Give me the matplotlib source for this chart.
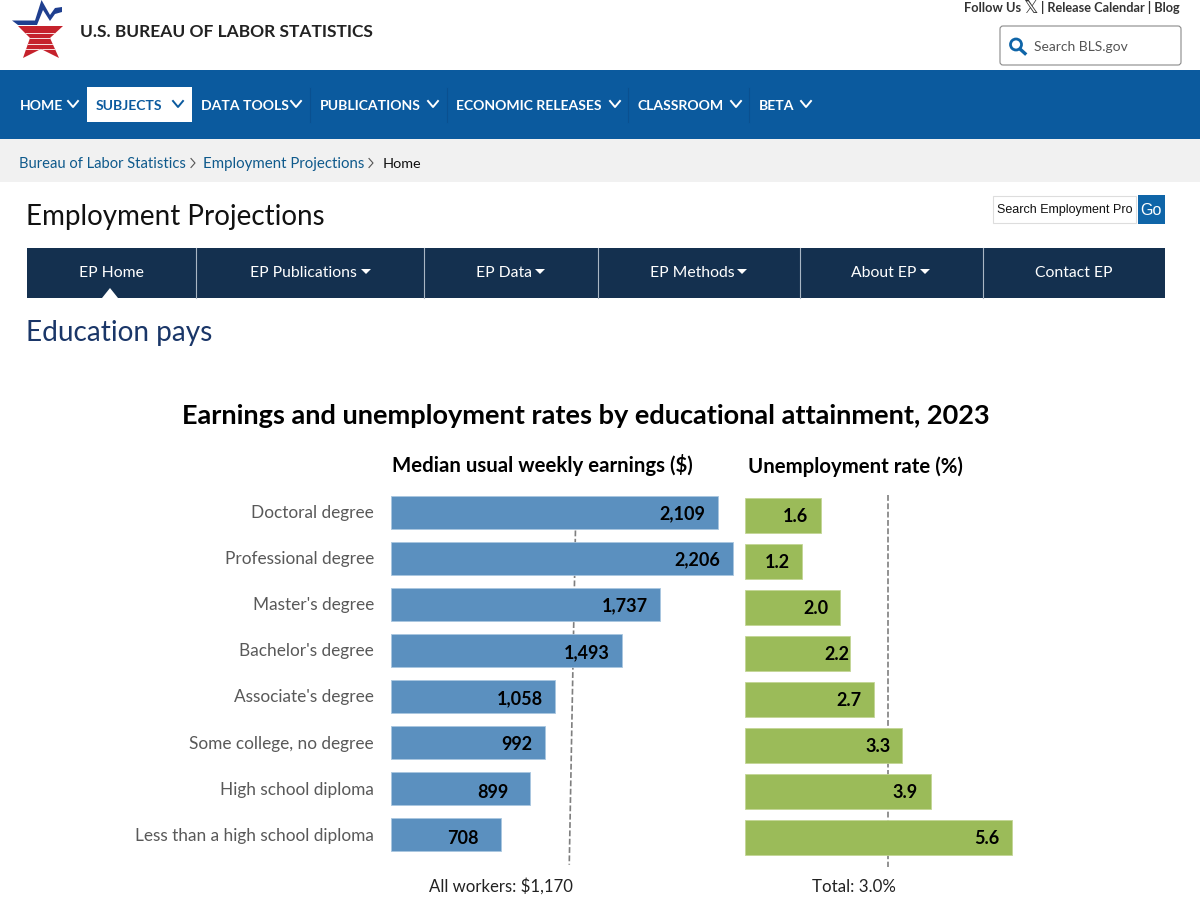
import matplotlib
matplotlib.use("Agg")
import matplotlib.pyplot as plt
from matplotlib.patches import Rectangle, Polygon, FancyBboxPatch, Circle

plt.rcParams['font.family'] = ['Lato', 'DejaVu Sans']

W, H = 1200, 907

# chart data
degrees = ["Doctoral degree", "Professional degree", "Master's degree", "Bachelor's degree",
           "Associate's degree", "Some college, no degree", "High school diploma",
           "Less than a high school diploma"]
earnings = [2109, 2206, 1737, 1493, 1058, 992, 899, 708]
unemployment = [1.6, 1.2, 2.0, 2.2, 2.7, 3.3, 3.9, 5.6]
all_workers = 1170
total_rate = 3.0

# site navigation text
main_nav = ["HOME", "SUBJECTS", "DATA TOOLS", "PUBLICATIONS", "ECONOMIC RELEASES", "CLASSROOM", "BETA"]
ep_nav = ["EP Home", "EP Publications", "EP Data", "EP Methods", "About EP", "Contact EP"]

fig = plt.figure(figsize=(W / 100, H / 100), dpi=100, facecolor='white')

# page furniture is drawn on a full-size axes in pixel units
page = fig.add_axes([0, 0, 1, 1])
page.set_xlim(0, W)
page.set_ylim(H, 0)
page.axis('off')


def box(x0, y0, x1, y1, color, **kw):
    r = Rectangle((x0, y0), x1 - x0, y1 - y0, facecolor=color, edgecolor=kw.pop('edge', 'none'), **kw)
    page.add_patch(r)
    return r


def chevron(x, y, color, s=5):
    page.plot([x - s, x, x + s], [y - s * 0.6, y + s * 0.6, y - s * 0.6], color=color, lw=1.4)


# logo
star = Polygon([(18, 26), (63, 26), (50, 38), (59, 58), (41, 49), (23, 58), (30, 38)], facecolor='#c5222c', edgecolor='none')
page.add_patch(star)
for y in [33, 38, 43.5, 49]:
    box(15, y, 66, y + 1.2, '#f6dcdc').set_clip_path(star)
page.add_patch(Polygon([(12, 20.5), (35, 20.5), (41.5, 0), (50, 15), (55, 8), (62, 7), (62, 12), (55, 14), (50, 21),
                        (43, 10), (37, 25), (18, 25)], facecolor='#1f3f8f', edgecolor='none'))
page.text(80, 32, "U.S. BUREAU OF LABOR STATISTICS", fontsize=12.5, fontweight='bold', color='#222222', va='center')

# top links and site search
page.text(964, 8, "Follow Us", fontsize=9.3, fontweight='bold', color='#333333', va='center')
page.text(1030, 8, "\U0001D54F", fontsize=13, color='#333333', va='center', ha='center', family='DejaVu Sans')
page.text(1041, 8, "| Release Calendar | Blog", fontsize=9.2, fontweight='bold', color='#333333', va='center')
page.add_patch(FancyBboxPatch((1000, 26), 181, 39, boxstyle="round,pad=0,rounding_size=3", facecolor='white',
                              edgecolor='#8a8a8a', lw=0.8))
page.add_patch(Circle((1016, 44.5), 5.5, facecolor='none', edgecolor='#0f65a8', lw=2))
page.plot([1020, 1025], [49, 53.5], color='#0f65a8', lw=2.4)
page.text(1034, 47, "Search BLS.gov", fontsize=10, color='#555555', va='center')

# main navigation bar
box(0, 70, W, 139, '#0b5a9e')
box(87, 87, 192, 122, 'white')
nav_x = [20, 96, 201, 319.5, 456, 638, 759]
nav_chevron = [73, 178, 296, 433, 615, 736, 806]
for i, label in enumerate(main_nav):
    c = '#0b5a9e' if label == "SUBJECTS" else 'white'
    page.text(nav_x[i], 105.5, label, fontsize=10.1, fontweight='bold', color=c, va='center')
    chevron(nav_chevron[i], 104, c)
for x in [310, 447, 628, 749]:
    page.plot([x, x], [88, 122], color='#0a5090', lw=0.8)

# breadcrumb
box(0, 139, W, 182, '#f1f1f1')
page.text(19, 164, "Bureau of Labor Statistics", fontsize=10.6, color='#0f5a8c', va='center')
page.plot([191, 195, 191], [158.5, 163, 167.5], color='#555555', lw=0.8)
page.text(203, 164, "Employment Projections", fontsize=10.8, color='#0f5a8c', va='center')
page.plot([369, 373, 369], [158.5, 163, 167.5], color='#555555', lw=0.8)
page.text(383, 164, "Home", fontsize=10.4, color='#111111', va='center')

# section header and its search
page.text(26, 217, "Employment Projections", fontsize=20, color='#111111', va='center')
box(993, 196, 1136, 223, 'white', edge='#dddddd', lw=0.8)
page.text(997, 210.5, "Search Employment Pro", fontsize=9, color='#111111', va='center', family='Liberation Sans')
box(1138, 195, 1165, 224, '#0f65a8')
page.text(1151, 210.5, "Go", fontsize=11.5, color='white', va='center', ha='center', family='Liberation Sans')

# section navigation
box(27, 248, 1165, 298, '#14304f')
for x in [196, 424, 598, 800, 983]:
    page.plot([x, x], [248, 298], color='#a9b6c4', lw=0.8)
ep_x = [111.5, 303, 504, 692, 884, 1074]
for i, label in enumerate(ep_nav):
    page.text(ep_x[i], 273, label, fontsize=11.3, color='white', va='center', ha='center')
for x in [366, 540, 742, 925]:
    page.add_patch(Polygon([(x - 5, 269), (x + 5, 269), (x, 274)], facecolor='white', edgecolor='none'))
page.add_patch(Polygon([(102, 298), (118, 298), (110, 288)], facecolor='white', edgecolor='none'))

page.text(26, 333, "Education pays", fontsize=20.2, color='#1a3668', va='center')

# chart titles
page.text(585.5, 416, "Earnings and unemployment rates by educational attainment, 2023", fontsize=19.5,
          fontweight='bold', color='black', ha='center', va='center')
page.text(392, 464.5, "Median usual weekly earnings ($)", fontsize=14.7, fontweight='bold', color='black', va='center')
page.text(748, 466.5, "Unemployment rate (%)", fontsize=14.7, fontweight='bold', color='black', va='center')


def bar_panel(x0, x1, y_top, pitch, per_unit, values, bar_h, color, edge):
    # axes placed in pixels, x scale set from pixels per unit of the value
    ax = fig.add_axes([x0 / W, 1 - (y_top + pitch * 8) / H, (x1 - x0) / W, pitch * 8 / H])
    ax.set_xlim(0, (x1 - x0) / per_unit)
    ax.set_ylim(7.5, -0.5)
    ax.axis('off')
    ax.patch.set_alpha(0)
    ax.barh(range(len(values)), values, height=bar_h, color=color, edgecolor=edge, lw=0.6, zorder=2)
    return ax


blue = bar_panel(391, 740, 489, 46.1, 0.155, earnings, 0.715, '#5b90bf', '#a9c6e0')
green = bar_panel(745, 1020, 492.5, 46.0, 47.7, unemployment, 0.76, '#9bbb59', '#c3d695')

# reference lines; the all-workers one leans slightly
lean = 20
blue.plot([all_workers + lean, all_workers - lean], [0.4, 7.65], color='#7f7f7f', lw=1.2, ls=(0, (3.5, 1.5)), zorder=1, clip_on=False)
green.plot([total_rate, total_rate], [-0.45, 7.65], color='#7f7f7f', lw=1.2, ls=(0, (3.5, 1.5)), zorder=1, clip_on=False)

# value labels
blue_gap = [-13, -13, -12, -13, -12, -12, -22, -22]
blue_dy = [2, 2, 2, 2, 2, 2, 4, 4]
green_gap = [-13, -12, -12, -1, -12, -12, -13, -13]
for i, v in enumerate(earnings):
    blue.annotate(f"{v:,}", (v, i), xytext=(blue_gap[i] * 0.72, -blue_dy[i] * 0.72), textcoords='offset points',
                  ha='right', va='center', fontsize=13, fontweight='bold', color='black', zorder=4)
for i, v in enumerate(unemployment):
    green.annotate(f"{v:.1f}", (v, i), xytext=(green_gap[i] * 0.72, -1 * 0.72), textcoords='offset points',
                   ha='right', va='center', fontsize=13, fontweight='bold', color='black', zorder=4)

# category labels
for i, name in enumerate(degrees):
    blue.annotate(name, (0, i), xytext=(-17 * 0.72, -1 * 0.72), textcoords='offset points', ha='right', va='center',
                  fontsize=12.4, color='#595959', annotation_clip=False)

page.text(501, 886.5, f"All workers: ${all_workers:,}", fontsize=12.1, color='#222222', ha='center', va='center')
page.text(853.5, 886.5, f"Total: {total_rate:.1f}%", fontsize=12.2, color='#222222', ha='center', va='center')

fig.savefig("out.png", dpi=100)
